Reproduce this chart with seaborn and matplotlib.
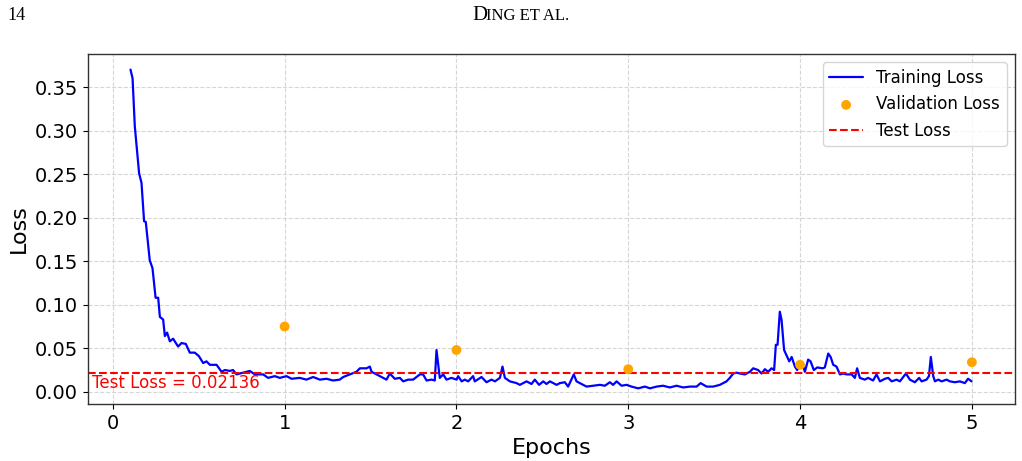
#!/usr/bin/env python

import numpy as np
import seaborn as sns
import matplotlib.pyplot as plt

# training loss (epoch, loss)
train_epochs = [
    0.103, 0.115, 0.128, 0.153, 0.167, 0.182, 0.192, 0.215, 0.231, 0.249,
    0.264, 0.274, 0.293, 0.303, 0.316, 0.332, 0.351, 0.380, 0.400, 0.425,
    0.448, 0.477, 0.501, 0.526, 0.545, 0.565, 0.604, 0.633, 0.652, 0.681,
    0.700, 0.720, 0.758, 0.797, 0.827, 0.875, 0.904, 0.943, 0.972, 1.011,
    1.040, 1.088, 1.127, 1.166, 1.205, 1.244, 1.282, 1.321, 1.341, 1.380,
    1.418, 1.438, 1.477, 1.496, 1.506, 1.535, 1.554, 1.593, 1.612, 1.641,
    1.671, 1.690, 1.719, 1.748, 1.787, 1.806, 1.826, 1.855, 1.874, 1.884,
    1.893, 1.903, 1.923, 1.942, 1.971, 2.001, 2.010, 2.030, 2.049, 2.068,
    2.097, 2.107, 2.146, 2.175, 2.204, 2.224, 2.253, 2.268, 2.282, 2.311,
    2.350, 2.369, 2.408, 2.437, 2.456, 2.481, 2.505, 2.524, 2.544, 2.583,
    2.602, 2.631, 2.650, 2.683, 2.699, 2.728, 2.757, 2.796, 2.835, 2.864,
    2.893, 2.912, 2.932, 2.961, 2.990, 3.019, 3.058, 3.097, 3.126, 3.165,
    3.203, 3.242, 3.281, 3.320, 3.359, 3.398, 3.421, 3.456, 3.494, 3.533,
    3.572, 3.591, 3.611, 3.630, 3.650, 3.679, 3.708, 3.727, 3.756, 3.776,
    3.795, 3.814, 3.834, 3.849, 3.859, 3.869, 3.882, 3.892, 3.907, 3.921,
    3.937, 3.951, 3.970, 3.983, 3.999, 4.015, 4.028, 4.047, 4.061, 4.080,
    4.100, 4.131, 4.144, 4.164, 4.178, 4.193, 4.212, 4.232, 4.251, 4.271,
    4.300, 4.319, 4.332, 4.348, 4.377, 4.396, 4.425, 4.445, 4.465, 4.494,
    4.513, 4.533, 4.562, 4.581, 4.616, 4.639, 4.668, 4.693, 4.707, 4.736,
    4.750, 4.761, 4.775, 4.785, 4.804, 4.824, 4.853, 4.872, 4.901, 4.930,
    4.959, 4.978, 4.998,
]
train_loss = [
    0.370, 0.360, 0.305, 0.251, 0.240, 0.196, 0.195, 0.151, 0.142, 0.108,
    0.108, 0.086, 0.083, 0.064, 0.068, 0.058, 0.061, 0.052, 0.056, 0.055,
    0.045, 0.045, 0.041, 0.033, 0.035, 0.031, 0.031, 0.023, 0.025, 0.024,
    0.025, 0.020, 0.022, 0.024, 0.020, 0.020, 0.016, 0.018, 0.016, 0.018,
    0.015, 0.016, 0.014, 0.017, 0.014, 0.015, 0.013, 0.014, 0.017, 0.020,
    0.023, 0.027, 0.027, 0.029, 0.023, 0.020, 0.018, 0.014, 0.021, 0.015,
    0.016, 0.012, 0.014, 0.014, 0.020, 0.020, 0.013, 0.014, 0.013, 0.048,
    0.033, 0.016, 0.020, 0.014, 0.016, 0.014, 0.018, 0.012, 0.014, 0.012,
    0.018, 0.012, 0.017, 0.011, 0.014, 0.012, 0.016, 0.029, 0.016, 0.012,
    0.010, 0.008, 0.012, 0.009, 0.014, 0.008, 0.012, 0.009, 0.012, 0.008,
    0.010, 0.011, 0.006, 0.020, 0.012, 0.009, 0.006, 0.007, 0.008, 0.007,
    0.011, 0.008, 0.012, 0.007, 0.008, 0.006, 0.004, 0.006, 0.004, 0.006,
    0.007, 0.005, 0.007, 0.005, 0.006, 0.006, 0.010, 0.006, 0.006, 0.008,
    0.012, 0.016, 0.021, 0.022, 0.021, 0.020, 0.023, 0.027, 0.025, 0.021,
    0.026, 0.023, 0.027, 0.025, 0.054, 0.054, 0.092, 0.083, 0.048, 0.042,
    0.035, 0.040, 0.029, 0.025, 0.031, 0.031, 0.023, 0.037, 0.035, 0.025,
    0.028, 0.027, 0.028, 0.044, 0.040, 0.031, 0.029, 0.020, 0.021, 0.020,
    0.020, 0.016, 0.027, 0.016, 0.014, 0.016, 0.013, 0.020, 0.012, 0.015,
    0.016, 0.012, 0.014, 0.012, 0.021, 0.014, 0.011, 0.016, 0.012, 0.014,
    0.018, 0.040, 0.018, 0.012, 0.014, 0.012, 0.014, 0.012, 0.011, 0.012,
    0.010, 0.015, 0.012,
]

val_epochs = [1, 2, 3, 4, 5]
val_loss = [0.075, 0.048, 0.026, 0.031, 0.034]

test_loss = 0.02136

sns.set_style("ticks")
plt.rcParams['font.family'] = ['DejaVu Sans']
plt.rcParams['text.color'] = 'black'
plt.rcParams['axes.labelcolor'] = 'black'
plt.rcParams['xtick.color'] = 'black'
plt.rcParams['ytick.color'] = 'black'

fig = plt.figure(figsize=(10.22, 4.61), dpi=100)
ax = fig.add_axes([0.086, 0.124, 0.907, 0.759])

sns.lineplot(x=train_epochs, y=train_loss, color='blue', linewidth=1.6,
             label='Training Loss', ax=ax, sort=False)
sns.scatterplot(x=val_epochs, y=val_loss, color='orange', s=50,
                edgecolor='none', label='Validation Loss', ax=ax, zorder=3)
ax.axhline(test_loss, color='red', linestyle='--', linewidth=1.5,
           label='Test Loss')
ax.text(0.004, test_loss - 0.0008, f'Test Loss = {test_loss}', color='red',
        fontsize=12, va='top', ha='left', transform=ax.get_yaxis_transform())

ax.set_xlim(-0.145, 5.25)
ax.set_ylim(-0.0138, 0.388)
ax.set_xticks([0, 1, 2, 3, 4, 5])
ax.set_yticks(np.arange(0, 0.36, 0.05))
ax.set_yticklabels([f'{v:.2f}' for v in np.arange(0, 0.36, 0.05)])
ax.tick_params(labelsize=14)
ax.grid(True, linestyle='--', color='#cccccc', linewidth=0.8, alpha=0.8)
for s in ax.spines.values():
    s.set_color('#333333')
    s.set_linewidth(1.0)

ax.set_xlabel('Epochs', fontsize=16)
ax.set_ylabel('Loss', fontsize=16)
ax.legend(loc='upper right', fontsize=12)

# page header from the paper
fig.text(0.007, 0.957, '14', fontsize=13, family='Liberation Serif', va='baseline')
fig.text(0.462, 0.957, 'D', fontsize=15, family='Liberation Serif',
         va='baseline', ha='left')
fig.text(0.476, 0.957, 'ING ET AL.', fontsize=12, family='Liberation Serif',
         va='baseline', ha='left')

fig.savefig('out.png', dpi=100)
